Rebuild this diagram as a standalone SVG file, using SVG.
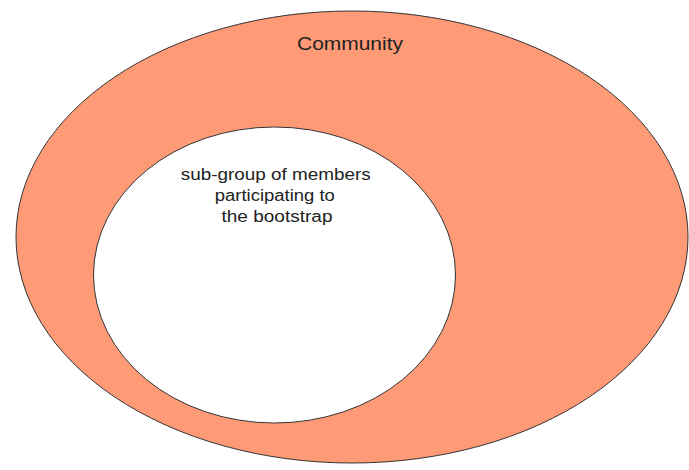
<svg xmlns="http://www.w3.org/2000/svg" width="689" height="470" viewBox="0 0 689 470">
<style>
.set{fill:#ff9a76;stroke:#333;stroke-width:1}
.inner{fill:#fff;stroke:#333;stroke-width:1}
.lbl{font-family:"Liberation Sans",Arial,sans-serif;fill:#222;text-anchor:middle}
</style>
<rect width="689" height="470" fill="#fff"/>
<g id="community">
<ellipse class="set" cx="352" cy="237" rx="336" ry="226"/>
<text class="lbl" x="350" y="50" font-size="18" textLength="106" lengthAdjust="spacingAndGlyphs">Community</text>
</g>
<g id="subgroup">
<ellipse class="inner" cx="274.5" cy="275" rx="181" ry="148"/>
<text class="lbl" font-size="16">
<tspan x="278" y="180" textLength="190" lengthAdjust="spacingAndGlyphs">sub-group of members</tspan>
<tspan x="277" y="201" textLength="120" lengthAdjust="spacingAndGlyphs">participating to</tspan>
<tspan x="277" y="222" textLength="111" lengthAdjust="spacingAndGlyphs">the bootstrap</tspan>
</text>
</g>
<g id="connectors"></g>
</svg>
